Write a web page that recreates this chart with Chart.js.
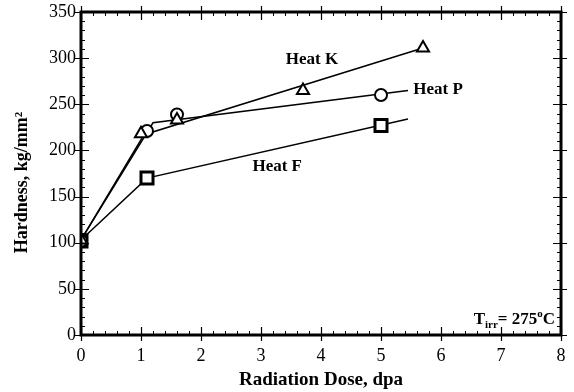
<!DOCTYPE html>
<html>
<head>
<meta charset="utf-8">
<script src="https://cdn.jsdelivr.net/npm/chart.js@4/dist/chart.umd.min.js"></script>
<style>
  html, body { margin: 0; padding: 0; background: #fff; }
  canvas { display: block; }
</style>
</head>
<body>
<canvas id="hardness" width="574" height="392"></canvas>
<script>
// measured points (dose in dpa, hardness in kg/mm2)
const doseK = [0, 1.0, 1.6, 3.7, 5.7];
const hardK = [103, 218, 233, 265, 311];
const doseP = [0, 1.1, 1.6, 5.0];
const hardP = [102, 221, 239, 260];
const doseF = [0, 1.1, 5.0];
const hardF = [102, 170, 227];

// trend lines drawn through the data
const fitDoseK = [0, 1.05, 5.7];
const fitHardK = [103, 217, 311];
const fitDoseP = [0, 1.2, 5.45];
const fitHardP = [103, 230, 265];
const fitDoseF = [0, 1.1, 5.45];
const fitHardF = [103, 170, 234];

const xTicks = [0, 1, 2, 3, 4, 5, 6, 7, 8];
const yTicks = [0, 50, 100, 150, 200, 250, 300, 350];

// curve labels in data coordinates
const curveLabels = [
  { text: "Heat K", x: 3.85, y: 298 },
  { text: "Heat P", x: 5.95, y: 266 },
  { text: "Heat F", x: 3.27, y: 182 },
];

const FONT = "'Liberation Serif', 'DejaVu Serif', serif";

const pts = (xs, ys) => xs.map((x, i) => ({ x: x, y: ys[i] }));

const lineSet = (xs, ys) => ({
  type: "line",
  data: pts(xs, ys),
  borderColor: "#000",
  borderWidth: 1.5,
  pointRadius: 0,
  fill: false,
  order: 2,
});

const markerSet = (xs, ys, style, r, bw) => ({
  type: "scatter",
  data: pts(xs, ys),
  pointStyle: style,
  pointRadius: r,
  pointBorderWidth: bw,
  pointBorderColor: "#000",
  pointBackgroundColor: "#fff",
  showLine: false,
  order: 1,
});

// frame, ticks and text labels
const framePlugin = {
  id: "frame",
  afterDatasetsDraw(chart) {
    const { ctx, chartArea: a, scales } = chart;
    const xs = scales.x, ys = scales.y;
    ctx.save();
    ctx.strokeStyle = "#000";

    // minor ticks, inward
    ctx.lineWidth = 1;
    ctx.beginPath();
    for (let v = 0; v <= 8.001; v += 0.2) {
      const px = Math.round(xs.getPixelForValue(v)) + 0.5;
      ctx.moveTo(px, a.bottom); ctx.lineTo(px, a.bottom - 4);
      ctx.moveTo(px, a.top); ctx.lineTo(px, a.top + 4);
    }
    for (let v = 0; v <= 350.001; v += 10) {
      const py = Math.round(ys.getPixelForValue(v)) + 0.5;
      ctx.moveTo(a.left, py); ctx.lineTo(a.left + 4, py);
      ctx.moveTo(a.right, py); ctx.lineTo(a.right - 4, py);
    }
    ctx.stroke();

    // major ticks, crossing the frame
    ctx.lineWidth = 1.2;
    ctx.beginPath();
    xTicks.forEach((v) => {
      const px = Math.round(xs.getPixelForValue(v)) + 0.5;
      ctx.moveTo(px, a.bottom + 6); ctx.lineTo(px, a.bottom - 8);
      ctx.moveTo(px, a.top - 6); ctx.lineTo(px, a.top + 8);
    });
    yTicks.forEach((v) => {
      const py = Math.round(ys.getPixelForValue(v)) + 0.5;
      ctx.moveTo(a.left - 6, py); ctx.lineTo(a.left + 8, py);
      ctx.moveTo(a.right + 6, py); ctx.lineTo(a.right - 8, py);
    });
    ctx.stroke();

    // thick frame
    ctx.lineWidth = 3;
    ctx.strokeRect(a.left, a.top, a.right - a.left, a.bottom - a.top);

    // curve labels
    ctx.fillStyle = "#000";
    ctx.font = "bold 17px " + FONT;
    ctx.textAlign = "center";
    ctx.textBaseline = "middle";
    curveLabels.forEach((l) => {
      ctx.fillText(l.text, xs.getPixelForValue(l.x), ys.getPixelForValue(l.y));
    });

    // T_irr = 275 oC, right aligned in the lower corner
    const parts = [
      { t: "T", f: "bold 17px " + FONT, dy: 0 },
      { t: "irr", f: "bold 11px " + FONT, dy: 5 },
      { t: "= 275", f: "bold 17px " + FONT, dy: 0 },
      { t: "o", f: "bold 11px " + FONT, dy: -6 },
      { t: "C", f: "bold 17px " + FONT, dy: 0 },
    ];
    let total = 0;
    parts.forEach((p) => { ctx.font = p.f; total += ctx.measureText(p.t).width; });
    let cx = a.right - 6 - total;
    const cy = a.bottom - 15;
    ctx.textAlign = "left";
    ctx.textBaseline = "middle";
    parts.forEach((p) => {
      ctx.font = p.f;
      ctx.fillText(p.t, cx, cy + p.dy);
      cx += ctx.measureText(p.t).width;
    });
    ctx.restore();
  },
};

new Chart(document.getElementById("hardness"), {
  data: {
    datasets: [
      lineSet(fitDoseK, fitHardK),
      lineSet(fitDoseP, fitHardP),
      lineSet(fitDoseF, fitHardF),
      markerSet(doseK, hardK, "triangle", 7, 2),
      markerSet(doseP, hardP, "circle", 6, 2),
      markerSet(doseF, hardF, "rect", 8.5, 3),
    ],
  },
  options: {
    responsive: false,
    animation: false,
    events: [],
    layout: { padding: { top: 12, right: 13, left: 0, bottom: 0 } },
    plugins: { legend: { display: false }, tooltip: { enabled: false } },
    scales: {
      x: {
        type: "linear",
        min: 0,
        max: 8,
        afterBuildTicks: (s) => { s.ticks = xTicks.map((v) => ({ value: v })); },
        afterFit: (s) => { s.height = 57; s.paddingLeft = 0; s.paddingRight = 0; },
        grid: { display: false, drawTicks: false },
        border: { display: false },
        ticks: { color: "#000", padding: 10, font: { family: FONT, size: 18 } },
        title: {
          display: true,
          text: "Radiation Dose, dpa",
          color: "#000",
          padding: { top: 0, bottom: 1 },
          font: { family: FONT, size: 19, weight: "bold" },
        },
      },
      y: {
        type: "linear",
        min: 0,
        max: 350,
        afterBuildTicks: (s) => { s.ticks = yTicks.map((v) => ({ value: v })); },
        afterFit: (s) => { s.width = 81; s.paddingTop = 0; s.paddingBottom = 0; },
        grid: { display: false, drawTicks: false },
        border: { display: false },
        ticks: { color: "#000", padding: 5, font: { family: FONT, size: 18 } },
        title: {
          display: true,
          text: "Hardness, kg/mm²\u00a0\u00a0\u00a0\u00a0",
          color: "#000",
          padding: { top: 12, bottom: 0 },
          font: { family: FONT, size: 18, weight: "bold" },
        },
      },
    },
  },
  plugins: [framePlugin],
});
</script>
</body>
</html>
